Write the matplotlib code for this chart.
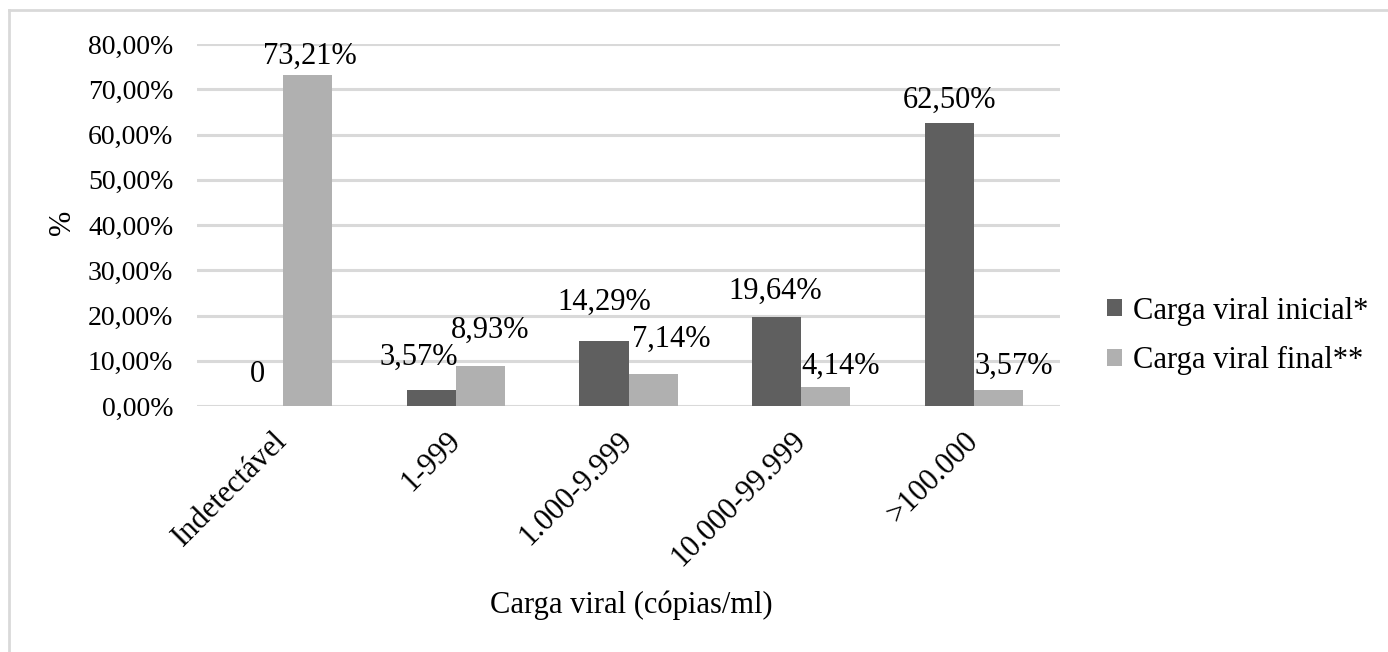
import matplotlib
matplotlib.use("Agg")
import matplotlib.pyplot as plt
import numpy as np
from matplotlib.lines import Line2D

plt.rcParams['font.family'] = ['Liberation Serif', 'DejaVu Serif']

categories = ["Indetectável", "1-999", "1.000-9.999", "10.000-99.999", ">100.000"]
inicial = [0.0, 3.57, 14.29, 19.64, 62.50]
final = [73.21, 8.93, 7.14, 4.14, 3.57]
inicial_labels = ["0", "3,57%", "14,29%", "19,64%", "62,50%"]
final_labels = ["73,21%", "8,93%", "7,14%", "4,14%", "3,57%"]
series_names = ["Carga viral inicial*", "Carga viral final**"]
yticks = [0, 10, 20, 30, 40, 50, 60, 70, 80]
ytick_labels = ["0,00%", "10,00%", "20,00%", "30,00%", "40,00%", "50,00%", "60,00%", "70,00%", "80,00%"]

# label offsets in pixels (dx, dy from bar top center)
ini_off = [(-1, 31), (-13, 33), (0, 39), (-1, 26), (0, 23)]
fin_off = [(2, 18), (10, 35), (18, 34), (15, 21), (16, 24)]

W, H = 1388, 652
fig = plt.figure(figsize=(W / 100, H / 100), dpi=100)
ax = fig.add_axes([197 / W, 1 - 406 / H, (1060 - 197) / W, (406 - 44) / H])

dark = "#5f5f5f"
light = "#b0b0b0"
grid = "#d9d9d9"

x = np.arange(len(categories))
bw = 0.284
ax.bar(x - bw / 2, inicial, bw, color=dark, label=series_names[0], zorder=3)
ax.bar(x + bw / 2, final, bw, color=light, label=series_names[1], zorder=3)

ax.set_xlim(-0.5, len(categories) - 0.5)
ax.set_ylim(0, 80)
ax.set_yticks(yticks)
ax.set_yticklabels(ytick_labels, fontsize=20)
ax.set_xticks(x)
ax.set_xticklabels(categories, fontsize=22, rotation=45, ha='right', va='center', rotation_mode='anchor')
ax.tick_params(axis='both', length=0)
ax.tick_params(axis='y', pad=17)
ax.tick_params(axis='x', pad=22)

for s in ax.spines.values():
    s.set_visible(False)
ax.yaxis.grid(True, color=grid, linewidth=2.2, zorder=0)
ax.set_axisbelow(True)

px = 0.72  # points per pixel
for i in range(len(categories)):
    dx, dy = ini_off[i]
    ax.annotate(inicial_labels[i], (x[i] - bw / 2, inicial[i]), xytext=(dx * px, dy * px),
                textcoords='offset points', ha='center', va='center', fontsize=22)
    dx, dy = fin_off[i]
    ax.annotate(final_labels[i], (x[i] + bw / 2, final[i]), xytext=(dx * px, dy * px),
                textcoords='offset points', ha='center', va='center', fontsize=22)

ax.set_xlabel("Carga viral (cópias/ml)", fontsize=22)
ax.xaxis.set_label_coords((631 - 197) / (1060 - 197), -(590 - 406) / (406 - 44))
ax.set_ylabel("%", fontsize=22)
ax.yaxis.set_label_coords(-(197 - 77) / (1060 - 197), (406 - 222) / (406 - 44))

leg = fig.legend(loc='center left', bbox_to_anchor=(1092 / W, 1 - 336 / H), frameon=False,
                 fontsize=22, handlelength=0.48, handleheight=0.48, handletextpad=0.36,
                 labelspacing=0.68, borderpad=0)

# outer border (top and left visible)
fig.add_artist(Line2D([8.5 / W, 8.5 / W], [0, 1 - 9.5 / H], transform=fig.transFigure, color=grid, linewidth=2))
fig.add_artist(Line2D([8.5 / W, 1], [1 - 9.5 / H, 1 - 9.5 / H], transform=fig.transFigure, color=grid, linewidth=2))

fig.savefig("out.png", dpi=100, facecolor="white")
